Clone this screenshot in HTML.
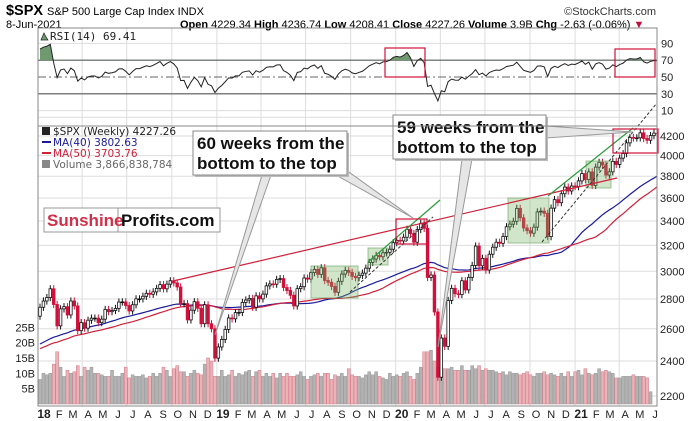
<!DOCTYPE html>
<html><head><meta charset="utf-8"><style>
html,body{margin:0;padding:0;background:#fff;width:700px;height:421px;overflow:hidden}
svg{display:block;font-family:"Liberation Sans",sans-serif}
</style></head><body>
<svg id="c" width="700" height="421" viewBox="0 0 700 421">
<rect x="0" y="0" width="700" height="421" fill="#fff"/>
<g>
<text x="6" y="15" font-size="15" font-weight="bold" textLength="37" lengthAdjust="spacingAndGlyphs">$SPX</text>
<text x="47" y="15" font-size="11">S&amp;P 500 Large Cap Index INDX</text>
<text x="656" y="15" font-size="11" text-anchor="end" fill="#333">©StockCharts.com</text>
<text x="6" y="28" font-size="11">8-Jun-2021</text>
<text x="180" y="28" font-size="11"><tspan font-weight="bold">Open</tspan> 4229.34 <tspan font-weight="bold">High</tspan> 4236.74 <tspan font-weight="bold">Low</tspan> 4208.41 <tspan font-weight="bold">Close</tspan> 4227.26 <tspan font-weight="bold">Volume</tspan> 3.9B <tspan font-weight="bold">Chg</tspan> -2.63 (-0.06%) <tspan fill="#c0103a">▼</tspan></text>
</g>
<g id="grid"></g>
<g id="rsi"></g>
<g id="vol"></g>
<g id="price"></g>
<g id="ann"></g>
<rect x="38" y="28" width="619" height="98" fill="none" stroke="#888"/>
<rect x="38" y="126" width="619" height="280" fill="none" stroke="#888"/>
<g id="axes"></g>
</svg>
<script>
// ---- data ----
const pre2017 = [2277,2275,2272,2295,2297,2316,2351,2367,2383,2373,2385,2344,2344,2363,2355,2329,2349,2384,2399,2390,2381,2416,2432,2439,2432,2433,2439,2423,2425,2459,2459,2473,2472,2476,2441,2426,2443,2477,2461,2500,2502,2519,2549,2553,2575,2581,2588,2582,2602,2579,2642,2652,2675,2690,2683];
const closes2018 = [2743,2786,2810,2872,2762,2619,2732,2747,2691,2786,2752,2588,2640,2604,2656,2670,2670,2640,2663,2728,2713,2721,2735,2779,2780,2755,2718,2760,2801,2801,2819,2840,2833,2850,2875,2902,2872,2905,2930,2914,2885,2767,2768,2658,2723,2781,2736,2633,2760,2633,2600,2417,2485];
const closes2019 = [2532,2596,2671,2665,2707,2708,2776,2793,2804,2743,2822,2801,2834,2893,2907,2905,2940,2946,2881,2860,2826,2752,2873,2887,2950,2942,2990,3014,2977,3026,2932,2919,2889,2847,2926,2979,3007,2992,2962,2952,2970,2986,3023,3067,3093,3120,3110,3141,3145,3169,3221,3240];
const closes2020 = [3235,3265,3330,3295,3225,3328,3380,3338,2954,2972,2711,2305,2541,2489,2790,2875,2837,2831,2930,2864,2955,3044,3194,3041,3098,3009,3130,3185,3225,3216,3271,3351,3373,3397,3508,3427,3341,3319,3298,3348,3477,3484,3465,3270,3510,3585,3558,3638,3699,3663,3709,3703,3756];
const closes2021 = [3825,3768,3841,3714,3887,3934,3907,3811,3842,3943,3913,3975,4020,4129,4185,4180,4181,4233,4174,4156,4204,4230,4227];
const volume = [8,10,9.5,10,13,17,12,9,11,10,10.5,12.5,9,12,11,12,10,10,9.5,9,9,11,9,9,10,12,8.5,9.5,9,9,9.5,8.5,9,10,9,10,12,11,9,11.5,12.5,10.5,10.5,9,10,11,10,9.5,13,15,14,9,9,
11,9,9.5,11,9,10,9.5,10.5,11,9,10.5,11,9,10,9,10,8.5,10,9,10,9,9,9.5,10.5,9,8,9,9.5,10,9,10,10,8,9.5,9,10,9,11.5,9.5,9,9,8.5,9.5,10.5,9.5,10.5,9,8.5,8,10,
9,9.5,9,10,10.5,9,8,10,12,17,17,17.5,14,12,12,11.5,11.5,12,11,11,12.5,11,11,12.5,11.5,12.5,11,11.5,11,11,10.5,10,10.5,9.5,10.5,10,10,9.5,10,10.5,9.5,9,10,10,10.5,9.5,10,9.5,9,10,9,10.5,9,
10.5,11,9.5,11.5,10,9.5,10,11.5,10.5,11,10.5,10,8.5,8.5,9,9,9,9.5,9,9,9,8.5,4];
const priceTicks = [4200,4000,3800,3600,3400,3200,3000,2800,2600,2400,2200];
const rsiTicks = [90,70,50,30,10];
const volTicks = [25,20,15,10,5];
const closes = closes2018.concat(closes2019, closes2020, closes2021);

// ---- scales ----
const X0 = 40, STEP = 3.43;
const xAt = i => X0 + i*STEP;
const yPrice = p => 136 + 402*Math.log(4200/p);
const yRsi = v => 77 - (v-50)*0.84;
const yVol = b => 404 - b*3.07;
const NS = 'http://www.w3.org/2000/svg';
function mk(tag, attrs, parent){const e=document.createElementNS(NS,tag);for(const k in attrs)e.setAttribute(k,attrs[k]);parent.appendChild(e);return e;}
const G = id => document.getElementById(id);

// ---- grid ----
const grid = G('grid');
const start = new Date(2018,0,5);
const months = "JFMAMJJASOND";
for (let y=2018; y<=2021; y++) for (let m=0; m<12; m++) {
  if (y===2021 && m>5) break;
  const d = new Date(y,m,1);
  const x = X0 + ((d-start)/864e5/7)*STEP;
  if (m%3===0) {
    const l1 = mk('line',{x1:x,x2:x,y1:28,y2:406,stroke:'#ddd','stroke-width':1},grid);
    
    
  }
  const t = mk('text',{x:Math.max(x+6,42),y:418,'font-size':m===0?12:11,'font-weight':m===0?'bold':'normal','text-anchor':'middle',fill:'#222'},G('axes'));
  t.textContent = m===0 ? String(y).slice(2) : months[m];
  
  
}
priceTicks.forEach(p=>{
  const y=yPrice(p);
  const l=mk('line',{x1:38,x2:657,y1:y,y2:y,stroke:'#ddd'},grid);
  
  
  const t=mk('text',{x:660,y:y+4,'font-size':11,fill:'#222'},G('axes'));
  t.textContent=p;
  
  
});
[4400].forEach(p=>{const y=yPrice(p);mk('line',{x1:38,x2:657,y1:y,y2:y,stroke:'#ddd'},grid);});
rsiTicks.forEach(v=>{
  const y=yRsi(v);
  const t=mk('text',{x:661,y:y+4,'font-size':11,fill:'#222'},G('axes'));
  t.textContent=v;
  
  
  if(v===90||v===10){const l=mk('line',{x1:38,x2:657,y1:y,y2:y,stroke:'#ddd'},grid);}
});
volTicks.forEach(b=>{
  const y=yVol(b);
  const t=mk('text',{x:35,y:y+4,'font-size':11,fill:'#222','text-anchor':'end'},G('axes'));
  t.textContent=b+'B';
  
  
});

// ---- RSI ----
const all = pre2017.concat(closes);
const off = pre2017.length;
let ag=0, al=0; const rsi=[];
for (let i=1;i<all.length;i++){
  const ch=all[i]-all[i-1];const g=Math.max(ch,0),l=Math.max(-ch,0);
  if(i<=14){ag+=g/14;al+=l/14;} else {ag=(ag*13+g)/14;al=(al*13+l)/14;}
  if(i>=off) rsi.push(100-100/(1+ag/(al||1e-9)));
}
const rg=G('rsi');
[70,30].forEach(v=>{const l=mk('line',{x1:38,x2:657,y1:yRsi(v),y2:yRsi(v),stroke:'#555','stroke-width':1.2},rg);});
const l50=mk('line',{x1:38,x2:657,y1:yRsi(50),y2:yRsi(50),stroke:'#666','stroke-dasharray':'8,3,2,3'},rg);


const rpts = rsi.map((v,i)=>xAt(i)+','+yRsi(v)).join(' ');
const defs=mk('defs',{},rg);
const cp=mk('clipPath',{id:'above70'},defs);mk('rect',{x:38,y:28,width:619,height:yRsi(70)-28},cp);
const fill=mk('polygon',{points:xAt(0)+','+yRsi(70)+' '+rpts+' '+xAt(rsi.length-1)+','+yRsi(70),fill:'#6f9a6f','clip-path':'url(#above70)'},rg);


const rl=mk('polyline',{points:rpts,fill:'none',stroke:'#222','stroke-width':1},rg);


const rleg=mk('text',{x:50,y:40,'font-size':11,fill:'#222','font-family':'DejaVu Sans Mono, monospace'},rg);
rleg.textContent='RSI(14) 69.41';


mk('polygon',{points:'41,40 44,33 46,37 48,40',fill:'#6f9a6f',stroke:'#222','stroke-width':0.7},rg);

// ---- volume ----
const vg=G('vol');
volume.forEach((b,i)=>{
  if(i>=closes.length) return;
  const prev = i===0?pre2017[pre2017.length-1]:closes[i-1];
  const down = closes[i]<prev;
  const y=yVol(b);
  const r=mk('rect',{x:xAt(i)-1.5,y:y,width:3,height:404-y,fill:down?'#e9b3b8':'#b3b3b3',stroke:down?'#d77a88':'#999','stroke-width':0.5},vg);
  
  
});

// ---- price ----
const pg=G('price');
const cp2=mk('clipPath',{id:'main'},defs);mk('rect',{x:38,y:126,width:619,height:280},cp2);
pg.setAttribute('clip-path','url(#main)');
function ma(n){return closes.map((c,i)=>{const j=i+off;let s=0;for(let k=j-n+1;k<=j;k++)s+=all[k];return s/n;});}
[[40,'#1a1a9a','ma40-line'],[50,'#d0203a','ma50-line']].forEach(([n,col,nm])=>{
  const pts=ma(n).map((v,i)=>xAt(i)+','+yPrice(v)).join(' ');
  const p=mk('polyline',{points:pts,fill:'none',stroke:col,'stroke-width':1.2},pg);
  
  
});
closes.forEach((c,i)=>{
  const o = i===0?pre2017[pre2017.length-1]:closes[i-1];
  const up=c>=o, hi=Math.max(o,c)*1.009, lo=Math.min(o,c)*0.991, x=xAt(i);
  const col=up?'#111':'#d0103a';
  const w=mk('line',{x1:x,x2:x,y1:yPrice(hi),y2:yPrice(lo),stroke:col,'stroke-width':1},pg);
  
  
  const yt=yPrice(Math.max(o,c)), yb=yPrice(Math.min(o,c));
  const r=mk('rect',{x:x-1.3,y:yt,width:2.6,height:Math.max(yb-yt,0.8),fill:up?'#fff':'#d0103a',stroke:col,'stroke-width':0.8},pg);
  
  
});
const legend=[['$SPX (Weekly) 4227.26','#222'],['MA(40) 3802.63','#1a1a9a'],['MA(50) 3703.76','#d0203a'],['Volume 3,866,838,784','#666']];
legend.forEach(([t,c],k)=>{
  const y=135+k*11;
  const tx=mk('text',{x:53,y:y,'font-size':10.5,fill:c,'font-family':'DejaVu Sans, sans-serif'},G('ann'));
  tx.textContent=t;
  
  
  if(k===1||k===2) mk('line',{x1:42,x2:51,y1:y-4,y2:y-4,stroke:c,'stroke-width':2},G('ann'));
  else mk('rect',{x:42,y:y-8,width:8,height:8,fill:k===0?'#222':'#888'},G('ann'));
});
</script>
<script>
// ---- annotations (static drawing overlay) ----
(function(){
const NS='http://www.w3.org/2000/svg', a=document.getElementById('ann');
function mk(tag,attrs){const e=document.createElementNS(NS,tag);for(const k in attrs)e.setAttribute(k,attrs[k]);a.appendChild(e);return e;}
function nm(e,n){return e;}
[[311,266,47,32],[368,248,20,17],[508,198,41,45],[586,161,25,27]].forEach(b=>nm(mk('rect',{x:b[0],y:b[1],width:b[2],height:b[3],fill:'rgba(120,180,100,0.35)',stroke:'rgba(100,160,90,0.6)'}),'consolidation-box'));
nm(mk('line',{x1:173,y1:281,x2:617,y2:178,stroke:'#d0203a','stroke-width':1.2}),'resistance-trendline');
nm(mk('line',{x1:368,y1:262,x2:440,y2:200,stroke:'#2a9a3a','stroke-width':1.2}),'green-trendline-2020');
nm(mk('line',{x1:548,y1:196,x2:633,y2:128,stroke:'#2a9a3a','stroke-width':1.2}),'green-trendline-2021');
nm(mk('line',{x1:350,y1:292,x2:433,y2:217,stroke:'#333','stroke-dasharray':'3,2'}),'dashed-support-2020');
nm(mk('line',{x1:542,y1:242,x2:657,y2:103,stroke:'#333','stroke-dasharray':'3,2'}),'dashed-support-2021');
[[396,219,31,25],[613,129,45,24],[385,48,40,29],[615,49,40,28]].forEach(b=>nm(mk('rect',{x:b[0],y:b[1],width:b[2],height:b[3],fill:'none',stroke:'#d0103a','stroke-width':1.2}),'highlight-box'));
const ptr=(pts,n)=>nm(mk('polygon',{points:pts,fill:'#e6e6e6',stroke:'#999','stroke-width':1}),n);
ptr('262,175 271,175 215,335','pointer-60-bottom');
ptr('336,175 346,170 413,218','pointer-60-top');
ptr('462,159 472,159 438,347','pointer-59-bottom');
ptr('546,126 546,138 633,132','pointer-59-top');
function box(x,y,w,h,lines,n){
  nm(mk('rect',{x:x+2,y:y+2,width:w,height:h,fill:'#bbb'}),n+'-shadow');
  nm(mk('rect',{x:x,y:y,width:w,height:h,fill:'#fff',stroke:'#888'}),n);
  lines.forEach((t,k)=>{const e=nm(mk('text',{x:x+4,y:y+18+k*20,'font-size':17,'font-weight':'bold',fill:'#111'}),n+'-text');e.textContent=t;});
}
box(193,131,154,44,['60 weeks from the','bottom to the top'],'callout-60-weeks');
box(393,115,153,44,['59 weeks from the','bottom to the top'],'callout-59-weeks');
nm(mk('rect',{x:44,y:208,width:74,height:24,fill:'#fff',stroke:'#999'}),'watermark-left');
nm(mk('rect',{x:118,y:208,width:102,height:24,fill:'#fff',stroke:'#999'}),'watermark-right');
const s=nm(mk('text',{x:47,y:226,'font-size':17,'font-weight':'bold',fill:'#d0304a'}),'watermark-sunshine');s.textContent='Sunshine';
const p=nm(mk('text',{x:121,y:226,'font-size':17,'font-weight':'bold',fill:'#111'}),'watermark-profits');p.textContent='Profits.com';
})();
</script>
</body></html>
